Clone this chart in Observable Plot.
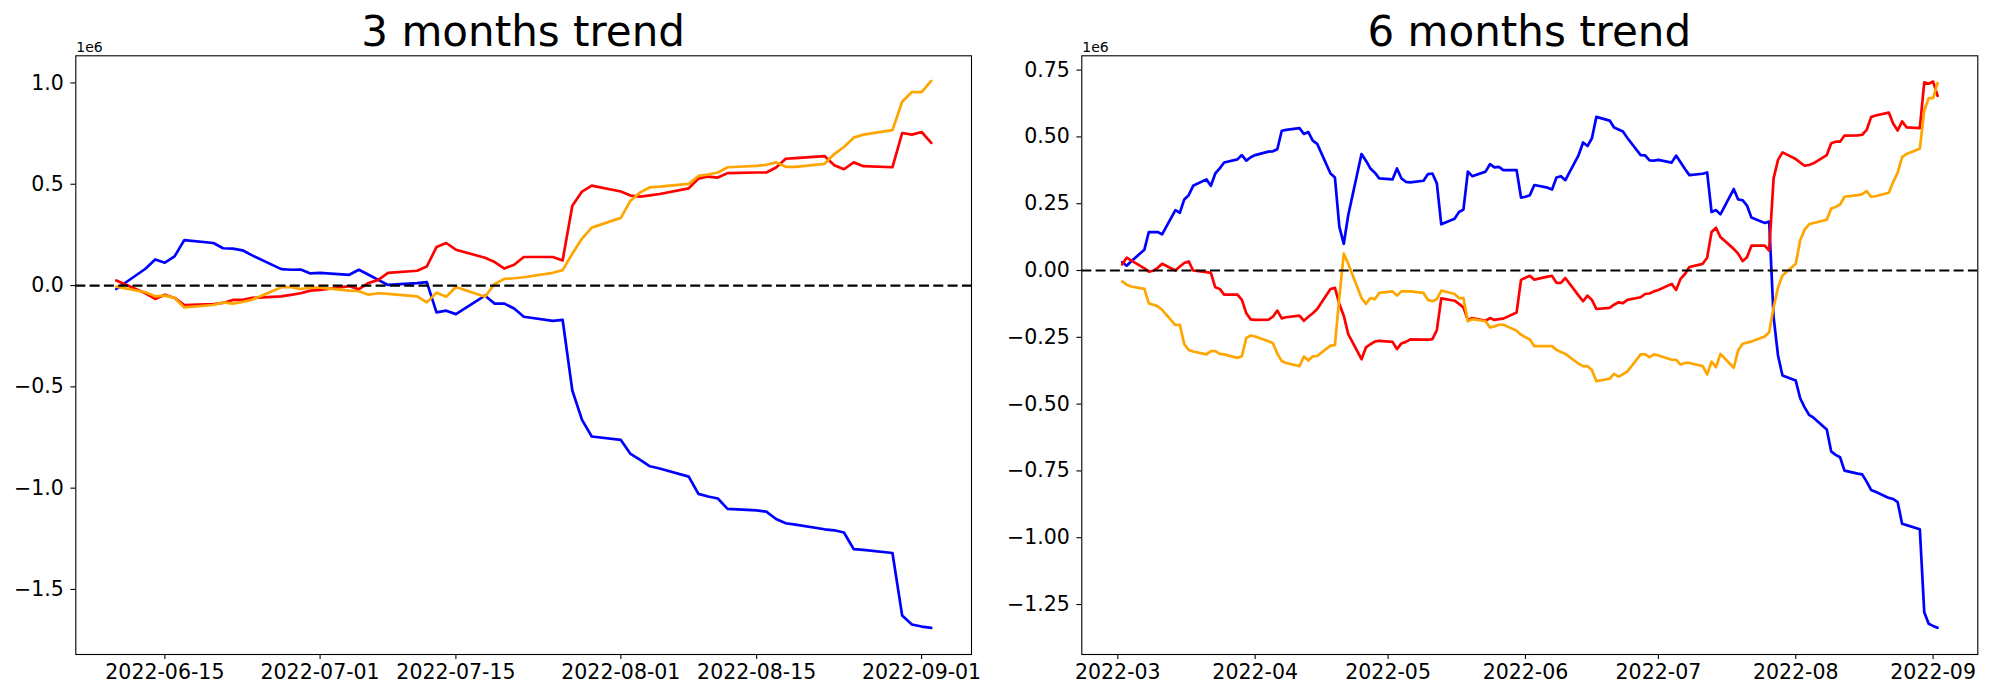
<!DOCTYPE html>
<html>
<head>
<meta charset="utf-8">
<script src="https://cdn.jsdelivr.net/npm/d3@7"></script>
<script src="https://cdn.jsdelivr.net/npm/@observablehq/plot@0.6"></script>
<style>
  html, body { margin: 0; padding: 0; background: #fff; }
  #wrap { position: relative; width: 2000px; height: 700px; font-family: "DejaVu Sans", sans-serif; overflow: hidden; }
  .title { position: absolute; top: 11px; font-size: 42px; line-height: 42px; text-align: center; color: #000; white-space: nowrap; }
  .offset { position: absolute; top: 40px; font-size: 14px; line-height: 14px; color: #000; }
  #wrap svg { position: absolute; top: 0; }
</style>
</head>
<body>
<div id="wrap"></div>
<script>
// ---------- 3 months trend ----------
const dates3 = [
  "2022-06-10","2022-06-13","2022-06-14","2022-06-15","2022-06-16","2022-06-17","2022-06-20","2022-06-21","2022-06-22","2022-06-23","2022-06-24","2022-06-27","2022-06-28","2022-06-29","2022-06-30",
  "2022-07-01","2022-07-04","2022-07-05","2022-07-06","2022-07-07","2022-07-08","2022-07-11","2022-07-12","2022-07-13","2022-07-14","2022-07-15","2022-07-18","2022-07-19","2022-07-20","2022-07-21","2022-07-22","2022-07-25","2022-07-26","2022-07-27","2022-07-28","2022-07-29",
  "2022-08-01","2022-08-02","2022-08-03","2022-08-04","2022-08-05","2022-08-08","2022-08-09","2022-08-10","2022-08-11","2022-08-12","2022-08-15","2022-08-16","2022-08-17","2022-08-18","2022-08-19","2022-08-22","2022-08-23","2022-08-24","2022-08-25","2022-08-26","2022-08-29","2022-08-30","2022-08-31",
  "2022-09-01","2022-09-02"
];
const blue3 = [
  -0.017, 0.083, 0.129, 0.113, 0.144, 0.224, 0.21, 0.184, 0.182, 0.174, 0.149, 0.081, 0.078, 0.079, 0.06,
  0.063, 0.053, 0.078, 0.053, 0.028, 0.003, 0.012, 0.017, -0.132, -0.124, -0.141, -0.05, -0.089, -0.089, -0.113, -0.154, -0.174, -0.169, -0.518, -0.663, -0.745,
  -0.762, -0.831, -0.86, -0.892, -0.903, -0.943, -1.028, -1.041, -1.051, -1.102, -1.11, -1.116, -1.152, -1.173, -1.18, -1.203, -1.208, -1.219, -1.301, -1.305, -1.32, -1.629, -1.673,
  -1.683, -1.69
];
const red3 = [
  0.025, -0.038, -0.066, -0.045, -0.061, -0.096, -0.091, -0.086, -0.071, -0.071, -0.061, -0.053, -0.046, -0.038, -0.025,
  -0.022, -0.003, -0.018, 0.013, 0.028, 0.063, 0.073, 0.094, 0.19, 0.21, 0.177, 0.137, 0.116, 0.084, 0.103, 0.141, 0.141, 0.124, 0.394, 0.464, 0.493,
  0.464, 0.444, 0.439, 0.445, 0.452, 0.48, 0.528, 0.538, 0.533, 0.555, 0.558, 0.558, 0.583, 0.626, 0.629, 0.639, 0.594, 0.574, 0.608, 0.589, 0.584, 0.753, 0.745,
  0.758, 0.704
];
const orange3 = [
  -0.005, -0.033, -0.053, -0.05, -0.061, -0.108, -0.096, -0.083, -0.089, -0.081, -0.07, -0.008, -0.008, -0.017, -0.01,
  -0.01, -0.025, -0.028, -0.045, -0.038, -0.041, -0.053, -0.083, -0.035, -0.055, -0.007, -0.055, 0.008, 0.033, 0.036, 0.041, 0.063, 0.076, 0.157, 0.232, 0.286,
  0.334, 0.419, 0.46, 0.485, 0.488, 0.502, 0.541, 0.548, 0.558, 0.584, 0.591, 0.596, 0.608, 0.586, 0.586, 0.601, 0.649, 0.684, 0.73, 0.745, 0.767, 0.907, 0.955,
  0.955, 1.01
];
const xTicks3 = ["2022-06-15","2022-07-01","2022-07-15","2022-08-01","2022-08-15","2022-09-01"];
const yTicks3 = [1.0, 0.5, 0.0, -0.5, -1.0, -1.5];

// ---------- 6 months trend ----------
const dates6 = [
  "2022-03-02","2022-03-03","2022-03-04","2022-03-07","2022-03-08","2022-03-09","2022-03-10","2022-03-11","2022-03-14","2022-03-15","2022-03-16","2022-03-17","2022-03-18","2022-03-21","2022-03-22","2022-03-23","2022-03-24","2022-03-25","2022-03-28","2022-03-29","2022-03-30","2022-03-31",
  "2022-04-01","2022-04-04","2022-04-05","2022-04-06","2022-04-07","2022-04-08","2022-04-11","2022-04-12","2022-04-13","2022-04-14","2022-04-15","2022-04-18","2022-04-19","2022-04-20","2022-04-21","2022-04-22","2022-04-25","2022-04-26","2022-04-27","2022-04-28","2022-04-29",
  "2022-05-02","2022-05-03","2022-05-04","2022-05-05","2022-05-06","2022-05-09","2022-05-10","2022-05-11","2022-05-12","2022-05-13","2022-05-16","2022-05-17","2022-05-18","2022-05-19","2022-05-20","2022-05-23","2022-05-24","2022-05-25","2022-05-26","2022-05-27","2022-05-30","2022-05-31",
  "2022-06-01","2022-06-02","2022-06-03","2022-06-06","2022-06-07","2022-06-08","2022-06-09","2022-06-10","2022-06-13","2022-06-14","2022-06-15","2022-06-16","2022-06-17","2022-06-20","2022-06-21","2022-06-22","2022-06-23","2022-06-24","2022-06-27","2022-06-28","2022-06-29","2022-06-30",
  "2022-07-01","2022-07-04","2022-07-05","2022-07-06","2022-07-07","2022-07-08","2022-07-11","2022-07-12","2022-07-13","2022-07-14","2022-07-15","2022-07-18","2022-07-19","2022-07-20","2022-07-21","2022-07-22","2022-07-25","2022-07-26","2022-07-27","2022-07-28","2022-07-29",
  "2022-08-01","2022-08-02","2022-08-03","2022-08-04","2022-08-05","2022-08-08","2022-08-09","2022-08-10","2022-08-11","2022-08-12","2022-08-15","2022-08-16","2022-08-17","2022-08-18","2022-08-19","2022-08-22","2022-08-23","2022-08-24","2022-08-25","2022-08-26","2022-08-29","2022-08-30","2022-08-31",
  "2022-09-01","2022-09-02"
];
const blue6 = [
  0.031, 0.018, 0.034, 0.078, 0.144, 0.144, 0.144, 0.135, 0.226, 0.216, 0.266, 0.282, 0.317, 0.341, 0.317, 0.363, 0.382, 0.404, 0.416, 0.432, 0.411, 0.424,
  0.432, 0.445, 0.446, 0.454, 0.523, 0.526, 0.533, 0.511, 0.518, 0.486, 0.474, 0.363, 0.348, 0.163, 0.1, 0.207, 0.436, 0.411, 0.382, 0.366, 0.345,
  0.341, 0.382, 0.345, 0.332, 0.33, 0.336, 0.361, 0.363, 0.326, 0.173, 0.194, 0.219, 0.228, 0.37, 0.353, 0.37, 0.398, 0.386, 0.388, 0.376, 0.376, 0.273,
  0.276, 0.282, 0.32, 0.31, 0.303, 0.348, 0.353, 0.338, 0.432, 0.479, 0.466, 0.495, 0.575, 0.561, 0.535, 0.528, 0.52, 0.496, 0.432, 0.431, 0.412, 0.411,
  0.414, 0.404, 0.43, 0.405, 0.38, 0.357, 0.362, 0.367, 0.219, 0.226, 0.21, 0.305, 0.266, 0.263, 0.243, 0.198, 0.178, 0.183, -0.175, -0.318, -0.393,
  -0.412, -0.478, -0.512, -0.54, -0.551, -0.595, -0.677, -0.69, -0.699, -0.749, -0.76, -0.763, -0.79, -0.821, -0.828, -0.851, -0.855, -0.867, -0.948, -0.953, -0.968, -1.279, -1.322,
  -1.33, -1.337
];
const red6 = [
  0.023, 0.048, 0.038, 0.008, -0.004, -0.001, 0.01, 0.025, 0.0, 0.015, 0.028, 0.034, 0.0, -0.006, -0.009, -0.063, -0.069, -0.09, -0.09, -0.11, -0.16, -0.183,
  -0.185, -0.184, -0.173, -0.15, -0.179, -0.175, -0.169, -0.188, -0.173, -0.16, -0.144, -0.069, -0.065, -0.125, -0.169, -0.238, -0.332, -0.288, -0.276, -0.266, -0.263,
  -0.267, -0.294, -0.273, -0.267, -0.258, -0.259, -0.259, -0.257, -0.223, -0.104, -0.113, -0.125, -0.138, -0.185, -0.178, -0.188, -0.178, -0.185, -0.182, -0.18, -0.157, -0.035,
  -0.027, -0.02, -0.034, -0.023, -0.02, -0.046, -0.046, -0.028, -0.094, -0.115, -0.094, -0.11, -0.144, -0.14, -0.128, -0.119, -0.122, -0.11, -0.1, -0.088, -0.086, -0.078,
  -0.073, -0.05, -0.073, -0.031, -0.013, 0.013, 0.025, 0.048, 0.144, 0.16, 0.125, 0.081, 0.063, 0.035, 0.05, 0.093, 0.093, 0.075, 0.345, 0.414, 0.442,
  0.417, 0.404, 0.392, 0.395, 0.401, 0.432, 0.476, 0.482, 0.482, 0.505, 0.506, 0.508, 0.526, 0.574, 0.58, 0.591, 0.549, 0.524, 0.558, 0.536, 0.533, 0.704, 0.699,
  0.707, 0.654
];
const orange6 = [
  -0.041, -0.053, -0.06, -0.069, -0.123, -0.128, -0.134, -0.147, -0.204, -0.203, -0.276, -0.297, -0.303, -0.314, -0.302, -0.302, -0.312, -0.314, -0.327, -0.321, -0.252, -0.243,
  -0.247, -0.265, -0.272, -0.311, -0.339, -0.346, -0.358, -0.322, -0.337, -0.321, -0.32, -0.281, -0.279, -0.1, 0.063, 0.025, -0.103, -0.125, -0.103, -0.107, -0.084,
  -0.078, -0.094, -0.078, -0.078, -0.078, -0.084, -0.11, -0.115, -0.107, -0.075, -0.088, -0.103, -0.103, -0.19, -0.182, -0.19, -0.213, -0.209, -0.203, -0.203, -0.225, -0.24,
  -0.25, -0.258, -0.283, -0.283, -0.283, -0.297, -0.305, -0.312, -0.349, -0.358, -0.358, -0.372, -0.414, -0.405, -0.387, -0.397, -0.388, -0.378, -0.314, -0.314, -0.324, -0.314,
  -0.318, -0.334, -0.334, -0.352, -0.346, -0.346, -0.358, -0.389, -0.341, -0.362, -0.312, -0.364, -0.299, -0.274, -0.27, -0.266, -0.247, -0.231, -0.138, -0.063, -0.019,
  0.025, 0.113, 0.153, 0.173, 0.178, 0.19, 0.232, 0.238, 0.247, 0.276, 0.282, 0.286, 0.297, 0.276, 0.278, 0.291, 0.332, 0.366, 0.424, 0.436, 0.456, 0.599, 0.645,
  0.645, 0.702
];
const xTicks6 = ["2022-03-01","2022-04-01","2022-05-01","2022-06-01","2022-07-01","2022-08-01","2022-09-01"];
const yTicks6 = [0.75, 0.5, 0.25, 0.0, -0.25, -0.5, -0.75, -1.0, -1.25];

const titles = ["3 months trend", "6 months trend"];
const offsetLabel = "1e6";

// ---------- helpers ----------
const parse = s => new Date(s + "T00:00:00Z");
const rows = (dates, vals) => dates.map((d, i) => ({date: parse(d), value: vals[i]}));
const numFmt = k => d => (d < 0 ? "\u2212" : "") + Math.abs(d).toFixed(k);

function makeChart(o) {
  const lineOpts = (stroke) => ({x: "date", y: "value", stroke, strokeWidth: 2.7});
  return Plot.plot({
    width: 1000,
    height: 700,
    marginLeft: o.ml, marginRight: o.mr, marginTop: 55.3, marginBottom: 46,
    style: {fontFamily: "DejaVu Sans, sans-serif", fontSize: "20.5px", color: "#000", background: "transparent", overflow: "visible"},
    x: {type: "utc", domain: o.xDomain},
    y: {type: "linear", domain: o.yDomain},
    marks: [
      Plot.line(rows(o.dates, o.blue), lineOpts("blue")),
      Plot.line(rows(o.dates, o.red), lineOpts("red")),
      Plot.line(rows(o.dates, o.orange), lineOpts("orange")),
      Plot.ruleY([0], {stroke: "#000", strokeWidth: 2.2, strokeDasharray: "10,4.3"}),
      Plot.axisX({ticks: o.xTicks.map(parse), tickFormat: o.xFmt, tickSize: 4.9, tickPadding: 5, strokeWidth: 1.1, fontSize: 20.5, label: null}),
      Plot.axisY({ticks: o.yTicks, tickFormat: o.yFmt, tickSize: 4.9, tickPadding: 7, strokeWidth: 1.1, fontSize: 20.5, label: null}),
      Plot.frame({stroke: "#000", strokeWidth: 1.1})
    ]
  });
}

const wrap = document.getElementById("wrap");

const c1 = makeChart({
  dates: dates3, blue: blue3, red: red3, orange: orange3,
  ml: 75.3, mr: 29,
  xDomain: [new Date(Date.UTC(2022, 5, 5, 19, 40)), new Date(Date.UTC(2022, 8, 6, 3, 30))],
  yDomain: [-1.821, 1.134],
  xTicks: xTicks3, xFmt: d3.utcFormat("%Y-%m-%d"),
  yTicks: yTicks3, yFmt: numFmt(1)
});
c1.style.left = "0px";
wrap.appendChild(c1);

const c2 = makeChart({
  dates: dates6, blue: blue6, red: red6, orange: orange6,
  ml: 81.3, mr: 22.7,
  xDomain: [new Date(Date.UTC(2022, 1, 20, 21, 0)), new Date(Date.UTC(2022, 8, 11, 2, 0))],
  yDomain: [-1.437, 0.8035],
  xTicks: xTicks6, xFmt: d3.utcFormat("%Y-%m"),
  yTicks: yTicks6, yFmt: numFmt(2)
});
c2.style.left = "1000px";
wrap.appendChild(c2);

// titles and offset labels
[[75.3, 895.7], [1081.3, 896]].forEach(([left, w], i) => {
  const t = document.createElement("div");
  t.className = "title";
  t.style.left = left + "px";
  t.style.width = w + "px";
  t.textContent = titles[i];
  wrap.appendChild(t);
  const off = document.createElement("div");
  off.className = "offset";
  off.style.left = (left + 1) + "px";
  off.textContent = offsetLabel;
  wrap.appendChild(off);
});
</script>
</body>
</html>
